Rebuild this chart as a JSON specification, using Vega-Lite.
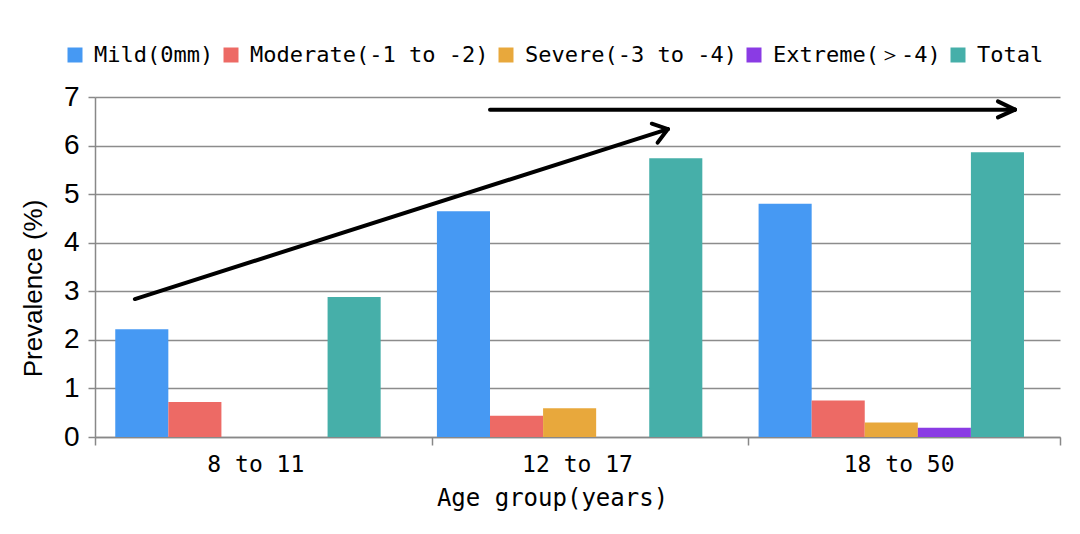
{
  "$schema": "https://vega.github.io/schema/vega-lite/v6.json",
  "width": 965,
  "height": 340,
  "autosize": {"type": "none"},
  "padding": {"left": 95, "top": 97, "right": 20, "bottom": 97},
  "background": "white",
  "config": {"view": {"stroke": null}},
  "datasets": {
    "bars": [
      {"group": "8 to 11", "series": "Mild(0mm)", "value": 2.22},
      {"group": "8 to 11", "series": "Moderate(-1 to -2)", "value": 0.72},
      {"group": "8 to 11", "series": "Severe(-3 to -4)", "value": 0},
      {"group": "8 to 11", "series": "Extreme(＞-4)", "value": 0},
      {"group": "8 to 11", "series": "Total", "value": 2.88},
      {"group": "12 to 17", "series": "Mild(0mm)", "value": 4.65},
      {"group": "12 to 17", "series": "Moderate(-1 to -2)", "value": 0.44},
      {"group": "12 to 17", "series": "Severe(-3 to -4)", "value": 0.59},
      {"group": "12 to 17", "series": "Extreme(＞-4)", "value": 0},
      {"group": "12 to 17", "series": "Total", "value": 5.74},
      {"group": "18 to 50", "series": "Mild(0mm)", "value": 4.8},
      {"group": "18 to 50", "series": "Moderate(-1 to -2)", "value": 0.75},
      {"group": "18 to 50", "series": "Severe(-3 to -4)", "value": 0.3},
      {"group": "18 to 50", "series": "Extreme(＞-4)", "value": 0.19},
      {"group": "18 to 50", "series": "Total", "value": 5.86}
    ],
    "arrows": [
      {"seg": "diag", "x0": 0.124, "y0": 2.84, "x1": 1.781, "y1": 6.34},
      {"seg": "diagArm1", "x0": 1.731, "y0": 6.45, "x1": 1.781, "y1": 6.34},
      {"seg": "diagArm2", "x0": 1.749, "y0": 6.06, "x1": 1.781, "y1": 6.34},
      {"seg": "horiz", "x0": 1.228, "y0": 6.74, "x1": 2.86, "y1": 6.74},
      {"seg": "horizArm1", "x0": 2.807, "y0": 6.91, "x1": 2.86, "y1": 6.74},
      {"seg": "horizArm2", "x0": 2.807, "y0": 6.58, "x1": 2.86, "y1": 6.74}
    ]
  },
  "layer": [
    {
      "data": {"name": "bars"},
      "mark": {"type": "bar"},
      "encoding": {
        "x": {
          "field": "group",
          "type": "nominal",
          "sort": ["8 to 11", "12 to 17", "18 to 50"],
          "scale": {"paddingInner": 0, "paddingOuter": 0},
          "axis": {
            "title": "Age group(years)",
            "titleFont": "DejaVu Sans Mono",
            "titleFontSize": 24,
            "titleFontWeight": "normal",
            "titleColor": "black",
            "titleX": 457,
            "titlePadding": 10,
            "labelFont": "DejaVu Sans Mono",
            "labelFontSize": 23,
            "labelColor": "black",
            "labelAngle": 0,
            "labelPadding": 16,
            "labelDx": 11,
            "ticks": false,
            "domain": false,
            "grid": false
          }
        },
        "xOffset": {
          "field": "series",
          "type": "nominal",
          "sort": ["Mild(0mm)", "Moderate(-1 to -2)", "Severe(-3 to -4)", "Extreme(＞-4)", "Total"],
          "scale": {"paddingInner": 0, "paddingOuter": 0.53, "align": 0.36}
        },
        "y": {
          "field": "value",
          "type": "quantitative",
          "scale": {"domain": [0, 7], "nice": false},
          "axis": {
            "title": "Prevalence (%)",
            "titleFont": "Liberation Sans",
            "titleFontSize": 26,
            "titleFontWeight": "normal",
            "titleColor": "black",
            "titleY": 191,
            "titlePadding": 17,
            "values": [0, 1, 2, 3, 4, 5, 6, 7],
            "labelFont": "Liberation Sans",
            "labelFontSize": 28,
            "labelColor": "black",
            "labelPadding": 9,
            "tickSize": 7,
            "tickColor": "#888888",
            "tickWidth": 1.5,
            "domainColor": "#888888",
            "domainWidth": 1.5,
            "grid": true,
            "gridColor": "#8c8c8c",
            "gridWidth": 1.5
          }
        },
        "color": {
          "field": "series",
          "type": "nominal",
          "sort": ["Mild(0mm)", "Moderate(-1 to -2)", "Severe(-3 to -4)", "Extreme(＞-4)", "Total"],
          "scale": {
            "domain": ["Mild(0mm)", "Moderate(-1 to -2)", "Severe(-3 to -4)", "Extreme(＞-4)", "Total"],
            "range": ["#4699F3", "#ED6A65", "#E8A83C", "#8A3BE4", "#46AFA9"]
          },
          "legend": {
            "title": null,
            "orient": "none",
            "direction": "horizontal",
            "legendX": -31,
            "legendY": -53,
            "symbolType": "square",
            "symbolSize": 225,
            "symbolStrokeWidth": 0,
            "labelFont": "DejaVu Sans Mono",
            "labelFontSize": 22,
            "labelColor": "black",
            "labelOffset": 8,
            "columnPadding": 6,
            "labelLimit": 400
          }
        }
      }
    },
    {
      "data": {"name": "arrows"},
      "mark": {"type": "rule", "color": "black", "strokeWidth": 4, "strokeCap": "round"},
      "encoding": {
        "x": {
          "field": "x0",
          "type": "quantitative",
          "scale": {"domain": [0, 3], "nice": false, "zero": false},
          "axis": {
            "orient": "bottom",
            "title": null,
            "values": [0, 1.047, 2.031, 3],
            "labels": false,
            "tickSize": 8,
            "tickColor": "#888888",
            "tickWidth": 1.5,
            "domainColor": "#888888",
            "domainWidth": 1.5,
            "grid": false
          }
        },
        "x2": {"field": "x1"},
        "y": {"field": "y0", "type": "quantitative"},
        "y2": {"field": "y1"}
      }
    }
  ],
  "resolve": {"scale": {"x": "independent"}, "axis": {"x": "independent"}}
}
